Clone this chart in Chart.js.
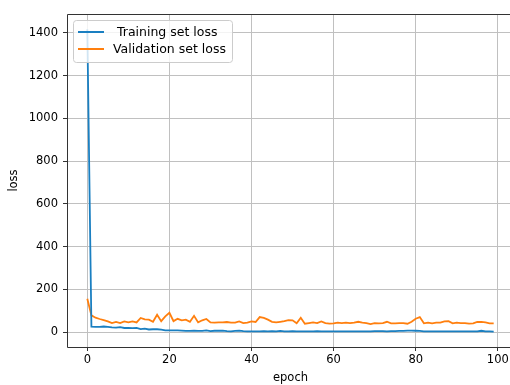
<!DOCTYPE html>
<html>
<head>
<meta charset="utf-8">
<script src="https://cdn.jsdelivr.net/npm/chart.js@4.4.1/dist/chart.umd.min.js"></script>
<style>
  html, body { margin: 0; padding: 0; background: #fff; width: 510px; height: 385px; overflow: hidden; }
  #wrap { position: absolute; left: 0; top: 0; width: 510px; height: 385px; overflow: hidden; }
  #myChart { position: absolute; left: 0; top: 0; }
</style>
</head>
<body>
<div id="wrap"><canvas id="myChart" width="530" height="385"></canvas></div>
<script>
const seriesLabels = [" Training set loss", "Validation set loss"];
const seriesColors = ["#1a7fc1", "#ff7f0e"];
const epochs = Array.from({ length: 100 }, (_, i) => i);
const trainLoss = [
    1417, 25, 24, 24, 26, 24, 22, 21, 23, 19,
    19, 18, 19, 14, 16, 12, 13, 13, 11, 8,
    8, 8, 8, 7, 5, 5, 6, 5, 5, 8,
    4, 6, 6, 7, 4, 3, 5, 7, 4, 3,
    3, 3, 3, 4, 3, 4, 3, 5, 3, 3,
    4, 3, 3, 3, 3, 3, 4, 3, 3, 3,
    3, 3, 3, 3, 3, 3, 3, 3, 3, 3,
    4, 4, 4, 3, 4, 4, 5, 5, 7, 7,
    6, 5, 3, 3, 3, 3, 3, 3, 3, 3,
    3, 3, 3, 3, 3, 3, 6, 3, 3, 2
];
const valLoss = [
    156, 78, 67, 61, 56, 50, 42, 47, 42, 50,
    45, 50, 45, 66, 59, 58, 48, 81, 51, 73,
    90, 51, 62, 55, 58, 48, 76, 45, 55, 61,
    45, 44, 45, 45, 47, 44, 44, 50, 42, 44,
    50, 47, 70, 66, 58, 48, 45, 48, 51, 56,
    55, 41, 67, 39, 42, 45, 42, 50, 42, 39,
    41, 44, 42, 44, 42, 44, 48, 44, 42, 37,
    42, 41, 42, 48, 41, 41, 42, 42, 39, 48,
    62, 70, 41, 44, 41, 44, 44, 50, 51, 41,
    44, 42, 42, 39, 41, 47, 48, 45, 41, 41
];
const xTicks = [0, 20, 40, 60, 80, 100];
const yTicks = [0, 200, 400, 600, 800, 1000, 1200, 1400];

const tickFont = { family: "DejaVu Sans", size: 11.5 };

// left, top and bottom spines; the right one falls outside the picture
const framePlugin = {
    id: "frame",
    afterDatasetsDraw(chart) {
        const { ctx, chartArea: a } = chart;
        ctx.save();
        ctx.strokeStyle = "#333";
        ctx.lineWidth = 1;
        ctx.beginPath();
        ctx.moveTo(chart.width, a.top + 0.5);
        ctx.lineTo(a.left + 0.5, a.top + 0.5);
        ctx.lineTo(a.left + 0.5, a.bottom + 0.5);
        ctx.lineTo(chart.width, a.bottom + 0.5);
        ctx.stroke();
        ctx.restore();
    }
};

// legend box in the upper left corner
const legendPlugin = {
    id: "boxLegend",
    afterDatasetsDraw(chart) {
        const { ctx } = chart;
        const x = 73, y = 20, w = 159, h = 42;
        ctx.save();
        ctx.beginPath();
        ctx.roundRect(x + 0.5, y + 0.5, w, h, 3);
        ctx.fillStyle = "rgba(255,255,255,0.8)";
        ctx.fill();
        ctx.strokeStyle = "#cccccc";
        ctx.lineWidth = 1;
        ctx.stroke();
        ctx.font = "12.5px 'DejaVu Sans'";
        ctx.textBaseline = "middle";
        chart.data.datasets.forEach((ds, i) => {
            const ly = 32 + i * 17;
            ctx.beginPath();
            ctx.moveTo(78, ly);
            ctx.lineTo(104, ly);
            ctx.strokeStyle = ds.borderColor;
            ctx.lineWidth = 2;
            ctx.stroke();
            ctx.fillStyle = "#000";
            ctx.fillText(ds.label, 113, ly + 0.5);
        });
        ctx.restore();
    }
};

function makeChart() {
    return new Chart("myChart", {
        type: "line",
        data: {
            datasets: [
                {
                    label: seriesLabels[0],
                    data: epochs.map((e, i) => ({ x: e, y: trainLoss[i] })),
                    borderColor: seriesColors[0],
                    borderWidth: 1.8,
                    pointRadius: 0,
                    tension: 0
                },
                {
                    label: seriesLabels[1],
                    data: epochs.map((e, i) => ({ x: e, y: valLoss[i] })),
                    borderColor: seriesColors[1],
                    borderWidth: 1.8,
                    pointRadius: 0,
                    tension: 0
                }
            ]
        },
        options: {
            responsive: false,
            animation: false,
            layout: { padding: { top: 14, right: 16, left: 0, bottom: 0 } },
            plugins: { legend: { display: false }, tooltip: { enabled: false } },
            scales: {
                x: {
                    type: "linear",
                    min: -4.95,
                    max: 103.95,
                    afterBuildTicks: s => { s.ticks = xTicks.map(v => ({ value: v })); },
                    afterFit: s => { s.height = 38; },
                    ticks: { color: "#000", font: tickFont, padding: 2, maxRotation: 0, callback: v => String(v) },
                    grid: { color: "#c0c0c0", lineWidth: 1, tickColor: "#333", tickLength: 4 },
                    border: { display: false },
                    title: { display: true, text: "epoch", color: "#000", font: { family: "DejaVu Sans", size: 11.5 }, padding: { top: 0, bottom: 0 } }
                },
                y: {
                    min: -70,
                    max: 1488,
                    afterBuildTicks: s => { s.ticks = yTicks.map(v => ({ value: v })); },
                    afterFit: s => { s.width = 67; },
                    ticks: { color: "#000", font: tickFont, padding: 5, callback: v => String(v) },
                    grid: { color: "#c0c0c0", lineWidth: 1, tickColor: "#333", tickLength: 4 },
                    border: { display: false },
                    title: { display: true, text: "loss", color: "#000", font: { family: "DejaVu Sans", size: 11.5 }, padding: { top: 7, bottom: 0 } }
                }
            }
        },
        plugins: [framePlugin, legendPlugin]
    });
}

let chart = makeChart();
</script>
</body>
</html>
